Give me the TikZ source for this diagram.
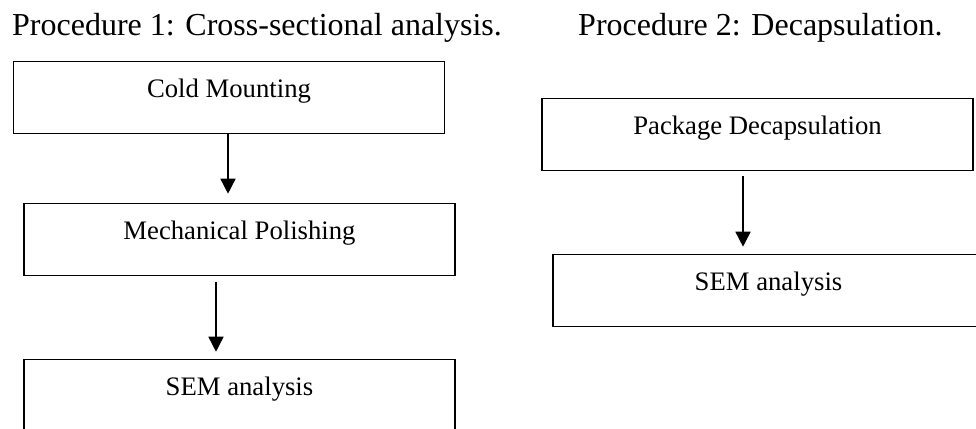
\documentclass[tikz,border=0pt]{standalone}
\usepackage{fontspec}
\setmainfont{Liberation Serif}
\usetikzlibrary{arrows.meta}
\begin{document}
\begin{tikzpicture}[x=1pt,y=-1pt,
  stepbox/.style={draw,line width=1.6pt,rectangle,minimum width=431pt,minimum height=72pt,
    inner sep=0pt,text height=19pt,text depth=19pt,font=\fontsize{26.7pt}{30pt}\selectfont},
  titletext/.style={anchor=base west,inner sep=0pt,font=\fontsize{32pt}{36pt}\selectfont},
  arr/.style={line width=1.6pt,-{Triangle[width=15pt,length=15pt]}}]
\useasboundingbox (0,0) rectangle (976,428);
\clip (0,0) rectangle (976,428);
\node[titletext] (t1) at (12,36) {Procedure 1: Cross-sectional analysis.};
\node[titletext] (t2) at (578,36) {Procedure 2: Decapsulation.};
\node[stepbox] (cm) at (229,97.5) {Cold Mounting};
\node[stepbox] (mp) at (239.5,239.5) {Mechanical Polishing};
\node[stepbox] (sem1) at (239.5,395.5) {SEM analysis};
\node[stepbox] (pd) at (757.5,134.5) {Package Decapsulation};
\node[stepbox] (sem2) at (768.5,290.5) {SEM analysis};
\draw[arr,shorten >=9pt] ([xshift=-1pt]cm.south) -- ([xshift=-1pt]cm.south |- mp.north);
\draw[arr,shorten <=6pt,shorten >=7pt] ([xshift=-23.5pt]mp.south) -- ([xshift=-23.5pt]mp.south |- sem1.north);
\draw[arr,shorten <=5pt,shorten >=7pt] ([xshift=-14.5pt]pd.south) -- ([xshift=-14.5pt]pd.south |- sem2.north);
\end{tikzpicture}
\end{document}
